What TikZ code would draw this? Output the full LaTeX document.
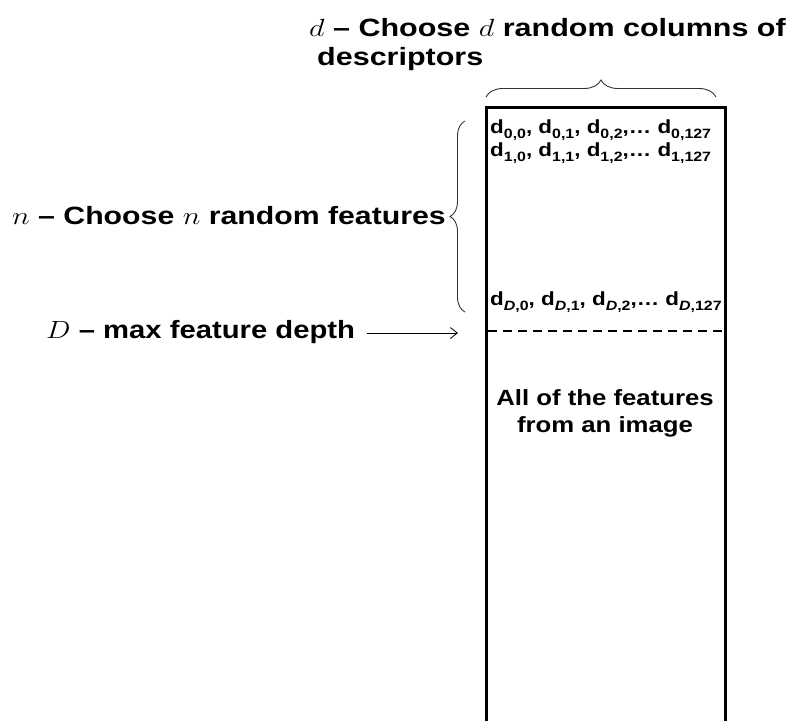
\documentclass[tikz,border=0pt]{standalone}
\usepackage{graphicx}
\usepackage{fontspec}
\setmainfont{Liberation Sans}
\usetikzlibrary{decorations.pathreplacing,arrows.meta}
\newcommand{\mbigsym}[1]{{\fontsize{32}{36}\selectfont$#1$}}
\newcommand{\hstretch}[2]{\scalebox{#1}[1]{#2}}
\newcommand{\sbx}[1]{\raisebox{-0.28em}{\fontsize{13.5}{14}\selectfont #1}}
\tikzset{
  lbl/.style={inner sep=0pt, font=\bfseries\fontsize{25}{30}\selectfont},
  rowtxt/.style={inner sep=0pt, anchor=west, font=\bfseries\fontsize{19}{22}\selectfont},
  bracestyle/.style={draw=black!80, line width=0.9pt, decorate},
  boxline/.style={line width=3pt},
}
\begin{document}
\begin{tikzpicture}[x=1pt,y=-1pt]
\useasboundingbox (0,0) rectangle (792,721);
% box
\coordinate (bl) at (486,721);
\coordinate (tl) at (486,107);
\coordinate (tr) at (725,107);
\coordinate (br) at (725,721);
\draw[boxline] (bl) -- (tl) -- (tr) -- (br);
% dashed line
\coordinate (dl) at (488,331);
\coordinate (dr) at (724,331);
\draw[line width=2pt, dash pattern=on 9pt off 6pt] (dl) -- (dr);
% top text
\node[lbl, anchor=west] (t1) at (309,28) {\hstretch{1.22}{\mbigsym{d} – Choose \mbigsym{d} random columns of}};
\node[lbl, anchor=west] (t2) at (317,59) {\hstretch{1.22}{descriptors}};
% top brace
\coordinate (tb1) at (486,97);
\coordinate (tb2) at (716,97);
\draw[bracestyle, decoration={brace, amplitude=17pt}] (tb1) -- (tb2);
% left brace
\coordinate (lb1) at (465,312);
\coordinate (lb2) at (465,121);
\draw[bracestyle, decoration={brace, amplitude=15pt}] (lb1) -- (lb2);
% n label
\node[lbl, anchor=east] (nl) at (446,216) {\hstretch{1.21}{\mbigsym{n} – Choose \mbigsym{n} random features}};
% D label
\node[lbl, anchor=west] (Dl) at (46,332) {\hstretch{1.17}{{\fontsize{35}{40}\selectfont$D$} – max feature depth}};
\coordinate (arrend) at (458,333);
\draw[line width=0.8pt, -{Straight Barb[length=7pt,width=11pt]}] ([xshift=12pt]Dl.east |- arrend) -- (arrend);
% rows
\node[rowtxt] (r0) at (490,130) {\hstretch{1.18}{d\sbx{0,0}, d\sbx{0,1}, d\sbx{0,2},… d\sbx{0,127}}};
\node[rowtxt] (r1) at (490,153) {\hstretch{1.18}{d\sbx{1,0}, d\sbx{1,1}, d\sbx{1,2},… d\sbx{1,127}}};
\node[rowtxt] (rD) at (490,302) {\hstretch{1.18}{d\sbx{\textit{D},0}, d\sbx{\textit{D},1}, d\sbx{\textit{D},2},… d\sbx{\textit{D},127}}};
% center text
\node[inner sep=0pt, align=center, font=\bfseries\fontsize{22}{27}\selectfont] (all) at (605,413) {\hstretch{1.17}{All of the features}\\\hstretch{1.17}{from an image}};
\end{tikzpicture}
\end{document}
